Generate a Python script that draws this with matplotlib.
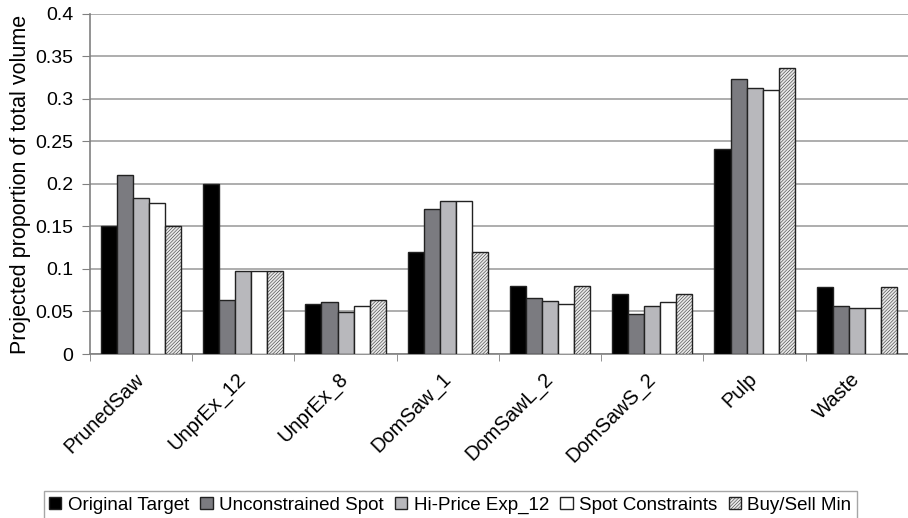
import numpy as np
import matplotlib
matplotlib.use("Agg")
from matplotlib import pyplot as plt
from matplotlib import transforms

plt.rcParams['font.family'] = ['Liberation Sans', 'DejaVu Sans']
plt.rcParams['hatch.color'] = '#c8c8c8'
plt.rcParams['hatch.linewidth'] = 0.35

# %%
categories = ["PrunedSaw", "UnprEx_12", "UnprEx_8", "DomSaw_1",
              "DomSawL_2", "DomSawS_2", "Pulp", "Waste"]
original_target = [0.150, 0.200, 0.059, 0.120, 0.080, 0.070, 0.241, 0.079]
unconstrained_spot = [0.211, 0.064, 0.061, 0.170, 0.066, 0.047, 0.324, 0.056]
hi_price_exp12 = [0.183, 0.098, 0.049, 0.180, 0.062, 0.057, 0.313, 0.054]
spot_constraints = [0.178, 0.098, 0.056, 0.180, 0.059, 0.061, 0.311, 0.054]
buy_sell_min = [0.150, 0.098, 0.064, 0.120, 0.080, 0.070, 0.337, 0.079]
series_names = ["Original Target", "Unconstrained Spot", "Hi-Price Exp_12",
                "Spot Constraints", "Buy/Sell Min"]

# %%
series = [original_target, unconstrained_spot, hi_price_exp12,
          spot_constraints, buy_sell_min]
faces = ['#000000', '#7b7b80', '#b8b8bc', '#ffffff', '#e8e8e8']
hatches = [None, None, None, None, '//////////']

fig = plt.figure(figsize=(9.08, 5.18), dpi=100)
ax = fig.add_axes([0.099, 0.3166, 0.901, 0.6564])

x = np.arange(len(categories))
w = 0.157
for i, (vals, fc, h) in enumerate(zip(series, faces, hatches)):
    ax.bar(x + (i - 2) * w, vals, w, color=fc, edgecolor='#222222',
           linewidth=1.0, hatch=h, label=series_names[i], zorder=3)

ax.set_xlim(-0.5, len(categories) - 0.5)
ax.set_ylim(0, 0.4)
ax.set_yticks(np.arange(0, 0.401, 0.05))
ax.set_yticklabels(['0', '0.05', '0.1', '0.15', '0.2', '0.25', '0.3', '0.35', '0.4'])
ax.yaxis.grid(True, color='#a0a0a0', linewidth=1.2, zorder=0)
ax.set_axisbelow(True)
ax.set_ylabel('Projected proportion of total volume', fontsize=15.5, labelpad=3)

ax.set_xticks(x)
ax.set_xticklabels(categories, rotation=45, ha='right', va='center',
                   rotation_mode='anchor', fontsize=14.5)
shift = transforms.ScaledTranslation(-12 / 100, 0, fig.dpi_scale_trans)
for lbl in ax.get_xticklabels():
    lbl.set_transform(lbl.get_transform() + shift)
ax.tick_params(axis='x', length=0, pad=16)
ax.set_xticks(np.arange(-0.5, len(categories)), minor=True)
ax.tick_params(axis='x', which='minor', length=5, color='#808080')
ax.tick_params(axis='y', labelsize=14, length=6, pad=6, color='#808080', direction='out')

for s in ['top', 'right']:
    ax.spines[s].set_visible(False)
ax.spines['left'].set_color('#808080')
ax.spines['bottom'].set_color('#808080')
ax.spines['left'].set_linewidth(1.2)
ax.spines['bottom'].set_linewidth(1.2)

leg = fig.legend(loc='lower center', bbox_to_anchor=(0.496, -0.01), ncol=5,
                 fontsize=13.5, frameon=True, fancybox=False, edgecolor='#909090',
                 handlelength=0.65, handleheight=0.65, handletextpad=0.35,
                 columnspacing=0.6, borderpad=0.3, borderaxespad=0.2)
leg.get_frame().set_linewidth(1.0)

fig.savefig('out.png', dpi=100)
